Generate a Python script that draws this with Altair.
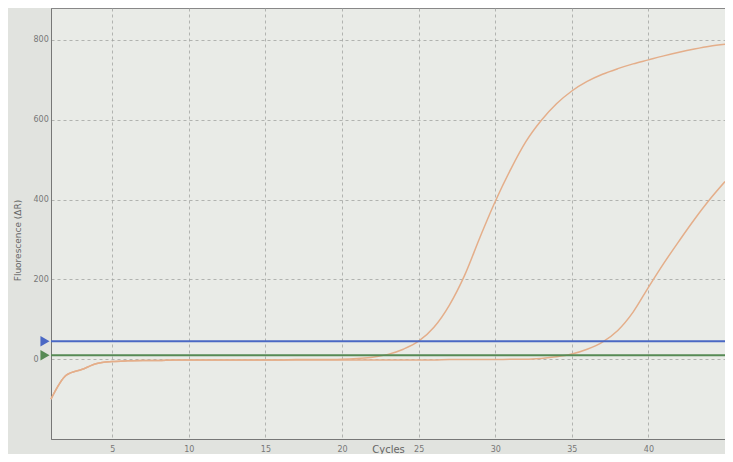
import altair as alt
import pandas as pd

cycles = list(range(1, 46))
sample_a = [-100, -40, -26, -11, -6, -4, -3, -3, -2, -2, -2, -2, -2, -2, -2, -2, -1, -1, -1, 0,
            2, 5, 12, 25, 45, 80, 135, 210, 305, 395, 475, 545, 598, 640, 672, 696, 714, 728, 740, 750,
            760, 769, 777, 784, 789]
sample_b = [-100, -40, -26, -11, -6, -4, -3, -3, -2, -2, -2, -2, -2, -2, -2, -2, -2, -2, -2, -2,
            -2, -2, -2, -2, -2, -2, -1, -1, -1, -1, 0, 0, 2, 6, 13, 25, 43, 72, 118, 180,
            240, 296, 350, 400, 445]
thresholds = [45, 10]
threshold_names = ["blue", "green"]
threshold_colors = ["#4a68c4", "#568a55"]
x_ticks = [5, 10, 15, 20, 25, 30, 35, 40]
y_ticks = [0, 200, 400, 600, 800]

curves = pd.DataFrame({
    "cycle": cycles * 2,
    "value": sample_a + sample_b,
    "sample": ["A"] * len(cycles) + ["B"] * len(cycles),
})
thr = pd.DataFrame({"y": thresholds, "name": threshold_names, "x": [1, 1]})

x_scale = alt.Scale(domain=[1, 45], nice=False, zero=False)
y_scale = alt.Scale(domain=[-200, 880], nice=False, zero=False)

x_axis = alt.Axis(values=x_ticks, title="Cycles", grid=True, gridDash=[3, 3], gridColor="#a3a5a3",
                  gridOpacity=0.8, ticks=False, labelFontSize=8, labelColor="#777", labelPadding=6,
                  titleFontSize=10, titleColor="#666", titleFontWeight="normal",
                  titleBaseline="alphabetic", titleY=13, domainColor="#777", labelFont="DejaVu Sans",
                  titleFont="DejaVu Sans")
y_axis = alt.Axis(values=y_ticks, title="Fluorescence (ΔR)", grid=True, gridDash=[3, 3],
                  gridColor="#a3a5a3", gridOpacity=0.8, ticks=False, labelFontSize=8,
                  labelColor="#777", labelAlign="left", labelPadding=18, titleFontSize=9,
                  titleColor="#666", titleFontWeight="normal", titleAngle=270, titleX=-29,
                  titleY=232, domainColor="#777", labelFont="DejaVu Sans", titleFont="DejaVu Sans")

lines = alt.Chart(curves).mark_line(interpolate="monotone", strokeWidth=1.5, color="#e4ae8a").encode(
    x=alt.X("cycle:Q", scale=x_scale, axis=x_axis),
    y=alt.Y("value:Q", scale=y_scale, axis=y_axis),
    detail="sample:N",
)

color_scale = alt.Scale(domain=threshold_names, range=threshold_colors)

rules = alt.Chart(thr).mark_rule(strokeWidth=2).encode(
    y=alt.Y("y:Q", scale=y_scale),
    color=alt.Color("name:N", scale=color_scale, legend=None),
)

tris = alt.Chart(thr).mark_point(shape="triangle-right", filled=True, size=110, opacity=1, xOffset=-6).encode(
    x=alt.X("x:Q", scale=x_scale),
    y=alt.Y("y:Q", scale=y_scale),
    color=alt.Color("name:N", scale=color_scale, legend=None),
)

chart = alt.layer(lines, rules, tris).properties(
    width=674, height=431,
    autosize=alt.AutoSizeParams(type="none"),
    padding={"left": 43, "top": 0, "right": 0, "bottom": 15},
    background="#e1e3df",
).configure_view(fill="#e9ebe7", stroke="#888", strokeWidth=1)

chart.save("out.html", embed_options={"renderer": "svg", "actions": False})
